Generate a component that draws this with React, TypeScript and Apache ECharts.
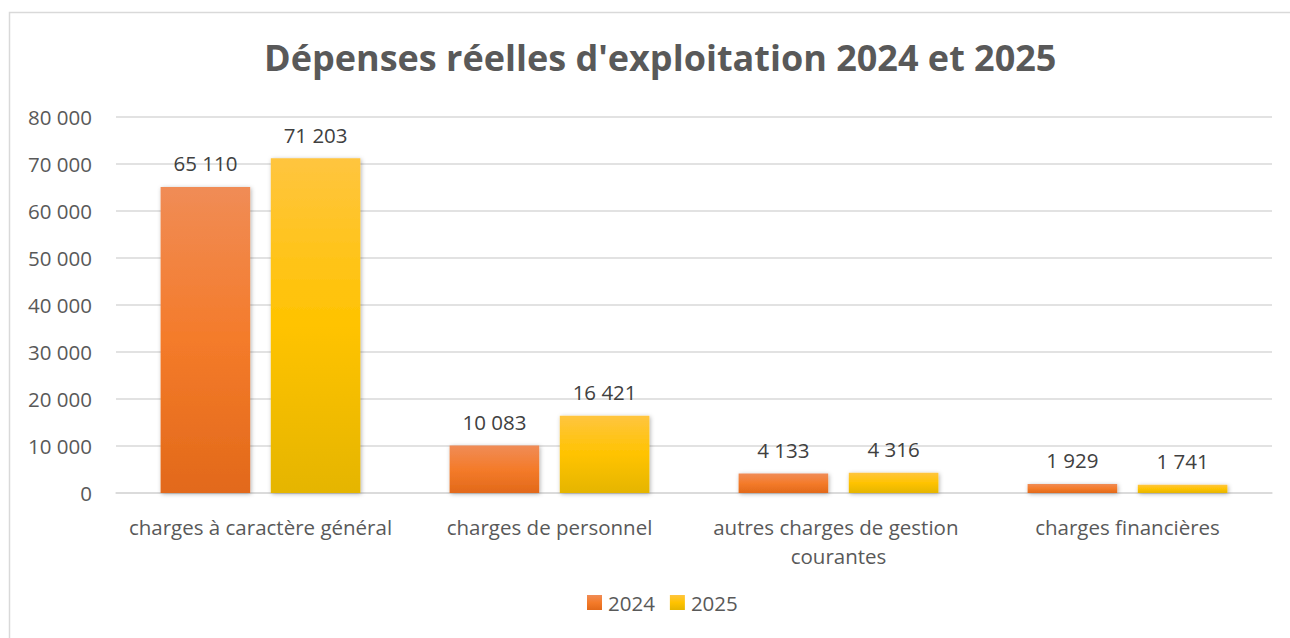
import React, { useEffect, useRef } from "react";
import * as echarts from "echarts";

const categories = [
  "charges à caractère général",
  "charges de personnel",
  "autres charges de gestion courantes",
  "charges financières",
];
const values2024 = [65110, 10083, 4133, 1929];
const values2025 = [71203, 16421, 4316, 1741];
const seriesNames = ["2024", "2025"];
const title = "Dépenses réelles d'exploitation 2024 et 2025";

const FONT = "'Open Sans', 'Liberation Sans', sans-serif";

const fmt = (v: number) =>
  String(Math.round(v)).replace(/\B(?=(\d{3})+(?!\d))/g, " ");

const orangeGrad = new echarts.graphic.LinearGradient(0, 0, 0, 1, [
  { offset: 0, color: "#F08C56" },
  { offset: 0.5, color: "#F47B2A" },
  { offset: 1, color: "#E2691A" },
]);
const yellowGrad = new echarts.graphic.LinearGradient(0, 0, 0, 1, [
  { offset: 0, color: "#FFC53F" },
  { offset: 0.5, color: "#FFC300" },
  { offset: 1, color: "#E5B500" },
]);

export default function App() {
  const ref = useRef<HTMLDivElement>(null);
  useEffect(() => {
    if (!ref.current) return;
    const chart = echarts.init(ref.current, undefined, { renderer: "svg" });
    const barStyle = {
      shadowBlur: 4,
      shadowColor: "rgba(0,0,0,0.3)",
      shadowOffsetX: 1,
      shadowOffsetY: 1,
    };
    const label = {
      show: true,
      position: "top" as const,
      distance: 13,
      color: "#404040",
      fontFamily: FONT,
      fontSize: 20.5,
      formatter: (p: any) => fmt(p.value),
    };
    chart.setOption({
      animation: false,
      backgroundColor: "#ffffff",
      graphic: [
        {
          type: "rect",
          shape: { x: 9.5, y: 12.5, width: 1400, height: 800 },
          style: { fill: "none", stroke: "#D9D9D9", lineWidth: 1.5 },
          silent: true,
        },
      ],
      title: {
        text: title,
        left: 259,
        top: 34,
        textStyle: {
          fontFamily: FONT,
          fontSize: 36,
          fontWeight: "bold",
          color: "#595959",
        },
      },
      legend: {
        data: seriesNames,
        bottom: 20,
        left: 582,
        itemWidth: 15,
        itemHeight: 15,
        itemGap: 15,
        icon: "rect",
        textStyle: { fontFamily: FONT, fontSize: 20.5, color: "#595959", padding: [0, 0, 0, 1] },
      },
      grid: { left: 116, right: 18, top: 117, bottom: 145, containLabel: false },
      xAxis: {
        type: "category",
        data: categories,
        axisLine: { lineStyle: { color: "#D9D9D9", width: 1.5 } },
        axisTick: { show: false },
        axisLabel: {
          fontFamily: FONT,
          fontSize: 20.5,
          color: "#595959",
          margin: 19,
          width: 305,
          overflow: "break",
          lineHeight: 29,
          interval: 0,
        },
      },
      yAxis: {
        type: "value",
        min: 0,
        max: 80000,
        interval: 10000,
        axisLine: { show: false },
        axisTick: { show: false },
        splitLine: { lineStyle: { color: "#D9D9D9", width: 1.5 } },
        axisLabel: {
          fontFamily: FONT,
          fontSize: 20.5,
          color: "#595959",
          margin: 24,
          formatter: (v: number) => fmt(v),
        },
      },
      series: [
        {
          name: seriesNames[0],
          type: "bar",
          data: values2024,
          barWidth: "31%",
          barGap: "23%",
          itemStyle: { color: orangeGrad, ...barStyle },
          label,
        },
        {
          name: seriesNames[1],
          type: "bar",
          data: values2025,
          barWidth: "31%",
          barGap: "23%",
          itemStyle: { color: yellowGrad, ...barStyle },
          label,
        },
      ],
    });
    return () => chart.dispose();
  }, []);
  return (
    <div
      ref={ref}
      style={{ position: "absolute", left: 0, top: 0, width: 1290, height: 638 }}
    />
  );
}
